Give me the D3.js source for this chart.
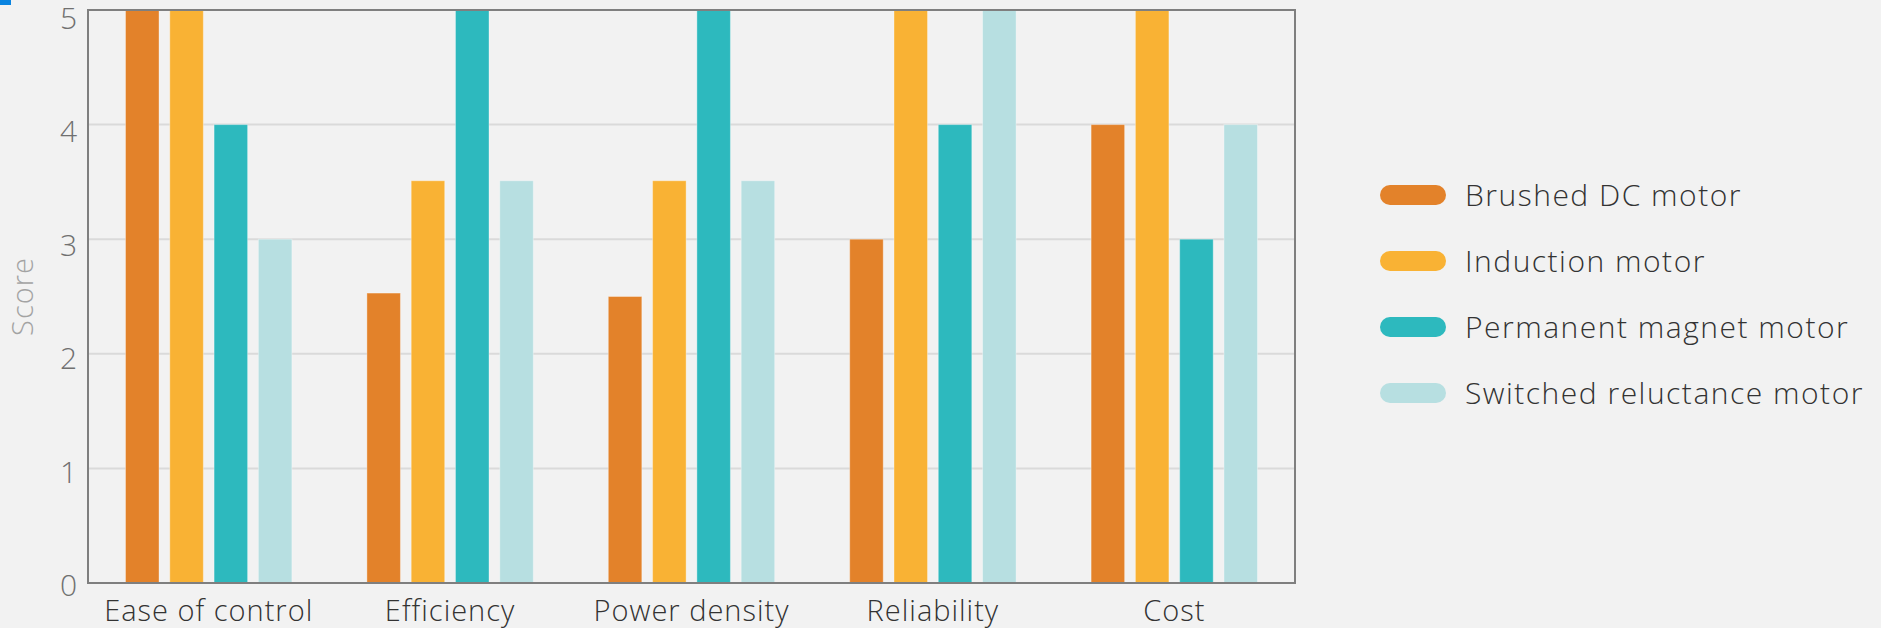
<!DOCTYPE html>
<html><head><meta charset="utf-8">
<script src="https://cdn.jsdelivr.net/npm/d3@7/dist/d3.min.js"></script>
<style>
html,body{margin:0;padding:0;background:#f2f2f2;}
svg{display:block;}
</style></head>
<body><svg id="c" width="1881" height="628"></svg>
<script>
const categories = ["Ease of control","Efficiency","Power density","Reliability","Cost"];
const seriesNames = ["Brushed DC motor","Induction motor","Permanent magnet motor","Switched reluctance motor"];
const brushedDC = [5, 2.53, 2.5, 3, 4];
const induction = [5, 3.51, 3.51, 5, 5];
const permanentMagnet = [4, 5, 5, 4, 3];
const switchedReluctance = [3, 3.51, 3.51, 5, 4];
const yTicks = [0,1,2,3,4,5];
const colors = ["#e3822a","#f9b234","#2db9be","#b7dfe1"];
const seriesValues = [brushedDC, induction, permanentMagnet, switchedReluctance];

const FONT = "'Open Sans', Lato, sans-serif";
const svg = d3.select("#c");
const L = 88, R = 1295, T = 10, B = 583;

svg.append("rect").attr("x",0).attr("y",0).attr("width",11).attr("height",5).attr("fill","#0a84e0");

const x0 = d3.scaleBand().domain(categories).range([L,R]).paddingInner(0).paddingOuter(0);
const x1 = d3.scaleBand().domain(seriesNames).range([37.5, x0.bandwidth()-37.5]).paddingInner(0.243).paddingOuter(0);
const y = d3.scaleLinear().domain([0,5]).range([B,T]);

// gridlines
svg.append("g").selectAll("line").data(yTicks.filter(t=>t>0&&t<5)).join("line")
  .attr("x1",L).attr("x2",R).attr("y1",d=>y(d)).attr("y2",d=>y(d))
  .attr("stroke","#dadada").attr("stroke-width",2);

// bars
const g = svg.append("g");
categories.forEach((c,ci)=>{
  seriesNames.forEach((s,si)=>{
    const v = seriesValues[si][ci];
    g.append("rect")
      .attr("x", x0(c)+x1(s)).attr("width", x1.bandwidth())
      .attr("y", y(v)).attr("height", y(0)-y(v))
      .attr("fill", colors[si])
      .attr("stroke","rgba(255,255,255,0.35)").attr("stroke-width",1);
  });
});

// frame
svg.append("rect").attr("x",L).attr("y",T).attr("width",R-L).attr("height",B-T)
  .attr("fill","none").attr("stroke","#7f7f7f").attr("stroke-width",2);

// y axis
const yAxis = svg.append("g").attr("transform",`translate(${L},0)`)
  .call(d3.axisLeft(y).tickValues(yTicks).tickSize(0).tickPadding(11).tickFormat(d3.format("d")));
yAxis.select(".domain").remove();
yAxis.selectAll("text").attr("dy",d=>(12.5 + d*1.1)+"px").attr("font-family",FONT).attr("font-weight",300).attr("font-size",30).attr("fill","#707070");

// x axis
const xAxis = svg.append("g").attr("transform",`translate(0,${B})`)
  .call(d3.axisBottom(x0).tickSize(0).tickPadding(17));
xAxis.select(".domain").remove();
xAxis.selectAll("text").attr("font-family",FONT).attr("font-weight",300).attr("font-size",29)
  .attr("letter-spacing","1px").attr("fill","#333");

// y label
svg.append("text").attr("transform",`translate(33,${(T+B)/2}) rotate(-90)`)
  .attr("text-anchor","middle").attr("font-family",FONT).attr("font-weight",300)
  .attr("font-size",29).attr("letter-spacing","1px").attr("fill","#a3a3a3").text("Score");

// legend
const ly = d3.scalePoint().domain(seriesNames).range([195, 393]);
const leg = svg.append("g");
seriesNames.forEach((s,i)=>{
  leg.append("rect").attr("x",1380).attr("y",ly(s)-10).attr("width",66).attr("height",20).attr("rx",10)
    .attr("fill",colors[i]);
  leg.append("text").attr("x",1465).attr("y",ly(s)).attr("dy","0.37em")
    .attr("font-family",FONT).attr("font-weight",300).attr("font-size",30)
    .attr("letter-spacing","1.5px").attr("fill","#333").text(s);
});
</script></body></html>
